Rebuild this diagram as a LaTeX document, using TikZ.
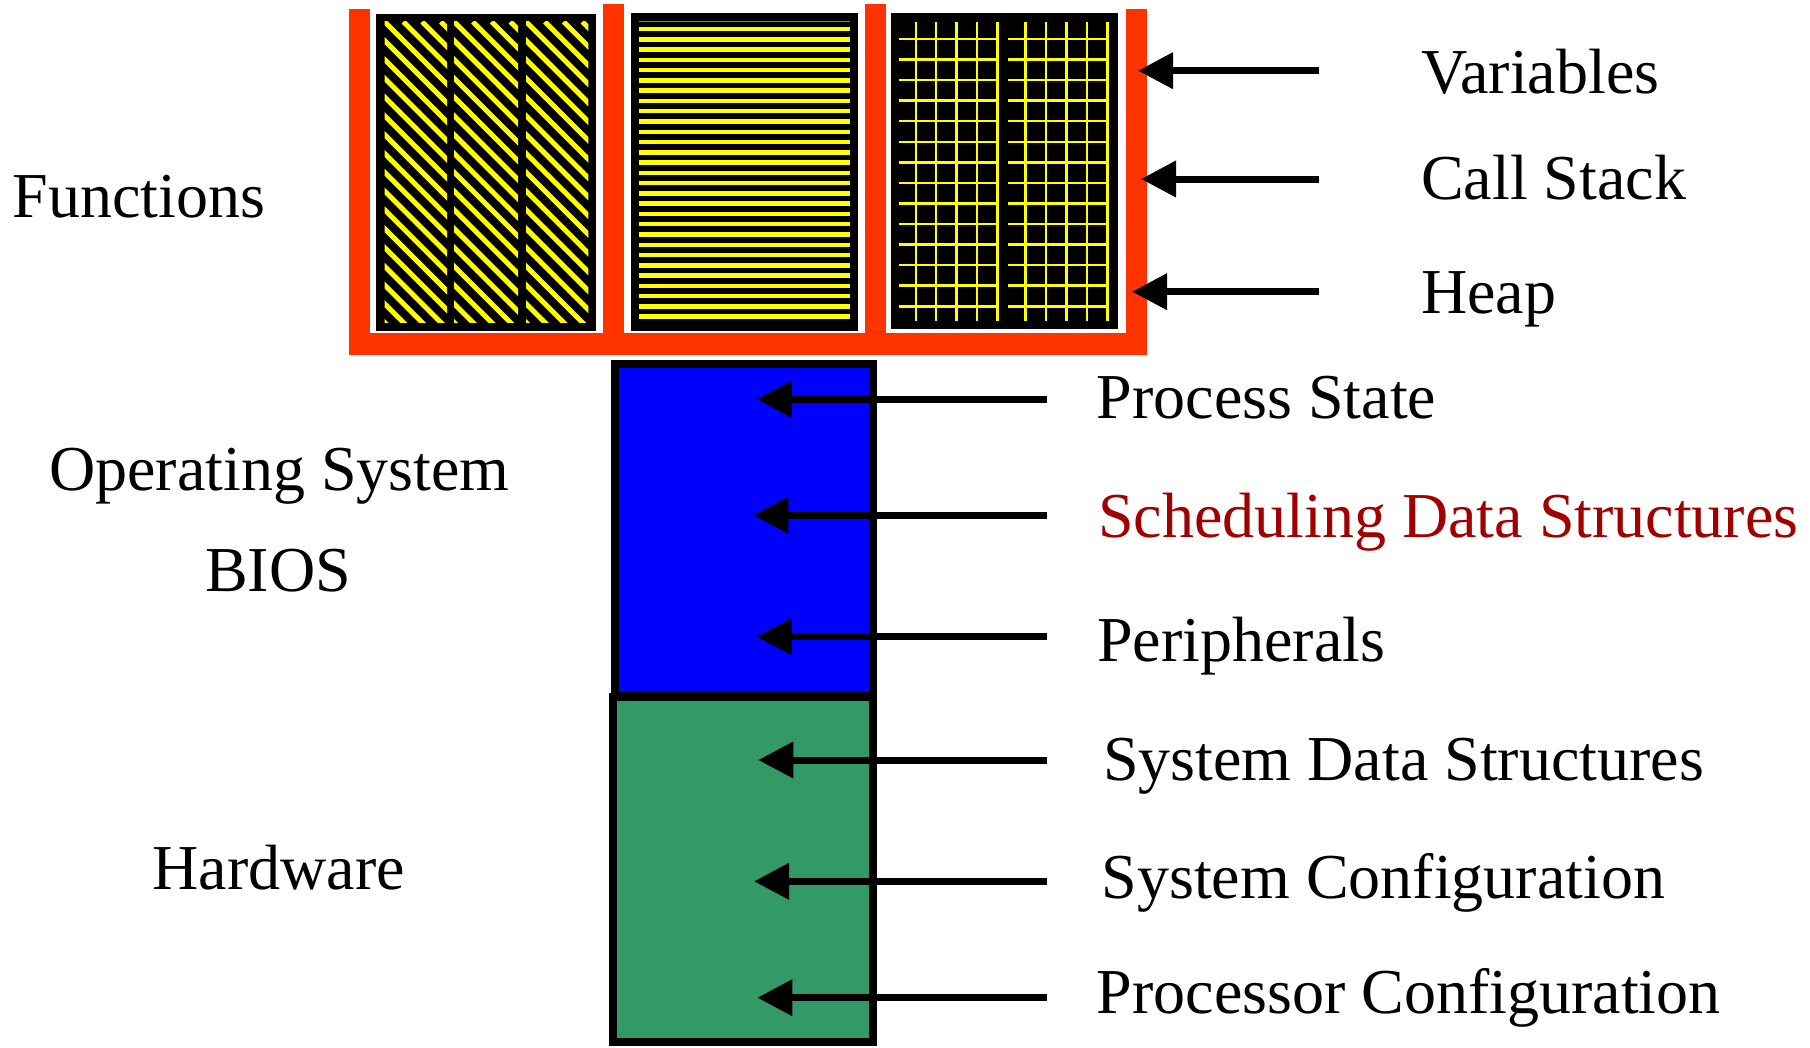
\documentclass[tikz,border=0pt]{standalone}
\usepackage{fontspec}
\setmainfont{Liberation Serif}
\usetikzlibrary{arrows.meta}
\definecolor{framered}{RGB}{255,51,0}
\definecolor{osblue}{RGB}{0,0,255}
\definecolor{hwgreen}{RGB}{51,153,102}
\definecolor{schedred}{RGB}{160,0,0}
\definecolor{stripeyellow}{RGB}{255,255,0}
\begin{document}
\begin{tikzpicture}[x=1pt,y=-1pt,
  lbl/.style={inner sep=0pt,font=\fontsize{64}{70}\selectfont},
  lblw/.style={lbl,anchor=base west},
  lblc/.style={lbl,anchor=base},
  ptr/.style={line width=7pt,-{Triangle[length=35pt,width=35pt]}},
  redbar/.style={fill=framered},
  blackbg/.style={fill=black},
  diag/.style={draw=stripeyellow,line width=5pt},
  hstripe/.style={draw=stripeyellow,line width=4.5pt},
  gridline/.style={draw=stripeyellow,line width=2.5pt},
  layerbox/.style={draw=black,line width=8pt}]
\useasboundingbox (0,0) rectangle (1810,1047);
\fill[white] (0,0) rectangle (1810,1047);

% ---- red frame ----
\fill[redbar] (349.4,9.3) rectangle (370.3,355);
\fill[redbar] (603,4) rectangle (624,345);
\fill[redbar] (864.6,4) rectangle (885.5,345);
\fill[redbar] (1126,9.3) rectangle (1147,355);
\fill[redbar] (349.4,333) rectangle (1147,355);

% ---- box 1: diagonal stripes ----
\fill[blackbg] (375.6,14.3) rectangle (596,331);
\foreach \xa/\xb in {384.5/447,454/518,526/588.4}{
  \begin{scope}
    \clip (\xa,21.7) rectangle (\xb,322.7);
    \foreach \c in {-338.4,-319.6,...,80}
      \draw[diag] (\xa+\c,21.7) -- (\xa+\c+330,351.7);
  \end{scope}
}

% ---- box 2: horizontal stripes ----
\fill[blackbg] (630.8,13.3) rectangle (858.3,331);
\draw[draw=stripeyellow!55!black,line width=1.5pt] (639,21.7) -- (850,21.7);
\foreach \i in {0,...,28}
  \draw[hstripe] (639,29+\i*10.275) -- (850,29+\i*10.275);

% ---- box 3: grid ----
\fill[blackbg] (891,13.3) rectangle (1117.7,329.3);
\foreach \x in {915.8,936.2,956.6,977,997.4,1025.7,1046.1,1066.5,1086.9,1107.3}
  \draw[gridline] (\x,21.7) -- (\x,321);
\foreach \i in {0,...,13}{
  \draw[gridline] (899,39+\i*20.56) -- (998.5,39+\i*20.56);
  \draw[gridline] (1008,39+\i*20.56) -- (1108.5,39+\i*20.56);
}

% ---- OS and hardware layers ----
\fill[osblue] (615,364) rectangle (873,696);
\draw[layerbox] (615,364) rectangle (873,696);
\fill[hwgreen] (613,697) rectangle (873,1042);
\draw[layerbox] (613,697) rectangle (873,1042);

% ---- left labels ----
\node[lblw] (functions) at (12.5,217.3) {Functions};
\node[lblc] (os) at (279.5,490) {Operating System};
\node[lblc] (bios) at (278,591.7) {BIOS};
\node[lblc] (hardware) at (278.7,889.3) {Hardware};

% ---- right labels ----
\node[lblw] (variables) at (1421,93) {Variables};
\node[lblw] (callstack) at (1421,199) {Call Stack};
\node[lblw] (heap) at (1421,313) {Heap};
\node[lblw] (pstate) at (1096.5,418.3) {Process State};
\node[lblw,text=schedred] (sched) at (1098,537.3) {Scheduling Data Structures};
\node[lblw] (periph) at (1097,661.7) {Peripherals};
\node[lblw] (sysdata) at (1103,780) {System Data Structures};
\node[lblw] (sysconf) at (1101.4,898.3) {System Configuration};
\node[lblw] (procconf) at (1096.5,1013.3) {Processor Configuration};

% ---- arrow end points ----
\coordinate (tVar) at (1319,70.7);   \coordinate (hVar) at (1138,70.7);
\coordinate (tCall) at (1319,179);   \coordinate (hCall) at (1141,179);
\coordinate (tHeap) at (1319,291.7); \coordinate (hHeap) at (1132,291.7);
\coordinate (tPS) at (1047,399.3);   \coordinate (hPS) at (756.7,399.3);
\coordinate (tSD) at (1047,515.3);   \coordinate (hSD) at (753.3,515.3);
\coordinate (tPe) at (1047,636.7);   \coordinate (hPe) at (756.7,636.7);
\coordinate (tSy) at (1047,760);     \coordinate (hSy) at (758.3,760);
\coordinate (tSC) at (1047,881.3);   \coordinate (hSC) at (754,881.3);
\coordinate (tPC) at (1047,997.7);   \coordinate (hPC) at (757.3,997.7);

\draw[ptr] (tVar) -- (hVar);
\draw[ptr] (tCall) -- (hCall);
\draw[ptr] (tHeap) -- (hHeap);
\draw[ptr] (tPS) -- (hPS);
\draw[ptr] (tSD) -- (hSD);
\draw[ptr] (tPe) -- (hPe);
\draw[ptr] (tSy) -- (hSy);
\draw[ptr] (tSC) -- (hSC);
\draw[ptr] (tPC) -- (hPC);
\end{tikzpicture}
\end{document}
